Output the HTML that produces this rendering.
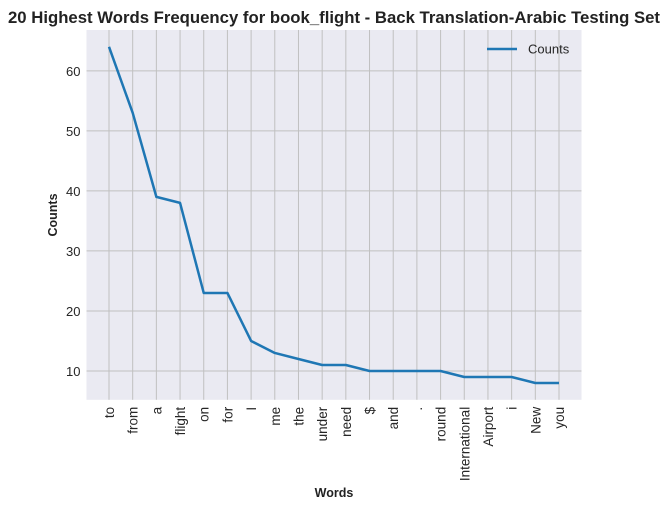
<!DOCTYPE html>
<html><head><meta charset="utf-8"><style>
body{margin:0;background:#fff;font-family:"Liberation Sans",Arial,sans-serif;}
svg text{font-family:"Liberation Sans",Arial,sans-serif;}
</style></head><body>
<svg id="chart" width="669" height="511" xmlns="http://www.w3.org/2000/svg">
<rect x="0" y="0" width="669" height="511" fill="#fff"/>
<text x="334" y="23" text-anchor="middle" font-size="16.6" font-weight="bold" fill="#222" textLength="652" lengthAdjust="spacingAndGlyphs">20 Highest Words Frequency for book_flight - Back Translation-Arabic Testing Set</text>
<rect x="86.5" y="30" width="495" height="369.8" fill="#eaeaf2"/>
<g id="grid"></g>
<g id="yticks"></g>
<g id="xticks"></g>
<polyline id="line" fill="none" stroke="#1f77b4" stroke-width="2.5" stroke-linejoin="round"/>
<g>
<line x1="487" y1="49" x2="517" y2="49" stroke="#1f77b4" stroke-width="2.5"/>
<text x="528" y="53.5" font-size="13" fill="#262626">Counts</text>
</g>
<text x="334" y="497" text-anchor="middle" font-size="12.5" font-weight="bold" fill="#222">Words</text>
<text transform="translate(57,215) rotate(-90)" text-anchor="middle" font-size="12.5" font-weight="bold" fill="#222">Counts</text>
</svg>
<script>
const words=["to","from","a","flight","on","for","I","me","the","under","need","$","and",".","round","International","Airport","i","New","you"];
const counts=[64,53,39,38,23,23,15,13,12,11,11,10,10,10,10,9,9,9,8,8];
const yTicks=[10,20,30,40,50,60];
const NS="http://www.w3.org/2000/svg";
const L=86.5,R=581.5,T=30,B=399.8;
const n=words.length;
const xmin=-0.05*(n-1),xmax=(n-1)*1.05;
const vmin=Math.min(...counts),vmax=Math.max(...counts),pad=(vmax-vmin)*0.05;
const ymin=vmin-pad,ymax=vmax+pad;
const xs=i=>L+(i-xmin)/(xmax-xmin)*(R-L);
const ys=v=>B-(v-ymin)/(ymax-ymin)*(B-T);
const grid=document.getElementById('grid'),yt=document.getElementById('yticks'),xt=document.getElementById('xticks');
function mk(tag,attrs,parent){const e=document.createElementNS(NS,tag);for(const k in attrs)e.setAttribute(k,attrs[k]);parent.appendChild(e);return e;}
yTicks.forEach(v=>{
  const g=mk('line',{x1:L,x2:R,y1:ys(v),y2:ys(v),stroke:'#c0c0c0','stroke-width':1},grid);
  
  
  const t=mk('text',{x:L-6,y:ys(v)+5,'text-anchor':'end','font-size':13,fill:'#262626'},yt);
  t.textContent=v;
  
  
});
words.forEach((w,i)=>{
  const g=mk('line',{x1:xs(i),x2:xs(i),y1:T,y2:B,stroke:'#c0c0c0','stroke-width':1},grid);
  
  
  const t=mk('text',{transform:`translate(${xs(i)+5},${B+7}) rotate(-90)`,'text-anchor':'end','font-size':13.5,fill:'#262626'},xt);
  t.textContent=w;
  
  
});
document.getElementById('line').setAttribute('points',counts.map((c,i)=>xs(i)+','+ys(c)).join(' '));
</script>
</body></html>
